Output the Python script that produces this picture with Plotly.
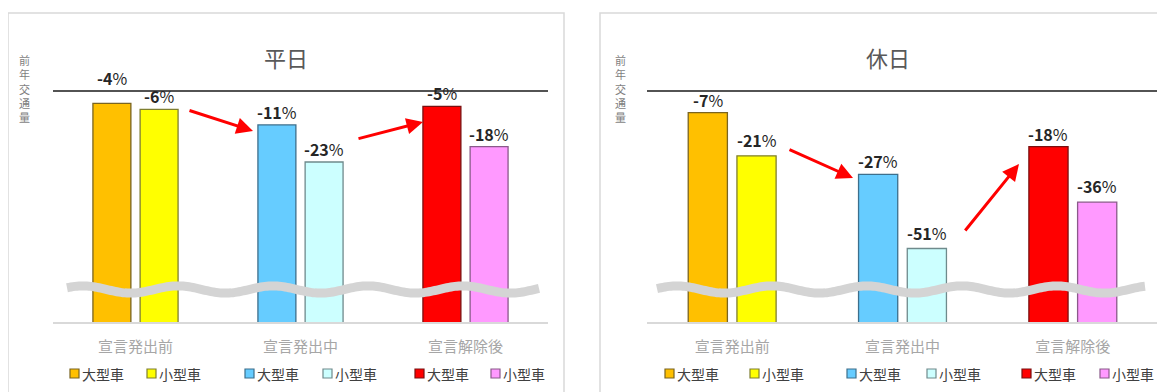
import math
import plotly.graph_objects as go

# ---------------- data ----------------
categories = ["宣言発出前", "宣言発出中", "宣言解除後"]
series_names = ["大型車", "小型車"]
weekday_large = [-4, -11, -5]     # 平日 大型車 (前年比 %)
weekday_small = [-6, -23, -18]    # 平日 小型車
holiday_large = [-7, -27, -18]    # 休日 大型車
holiday_small = [-21, -51, -36]   # 休日 小型車
panel_titles = ["平日", "休日"]
y_label = "前年交通量"

# ---------------- style ----------------
# the page body has an 8px margin, so the figure is drawn 8px in from the window edge
OX, OY = 8, 8
FW, FH = 1165 - OX, 392 - OY
FONT = "Noto Sans CJK JP"
large_colors = ["#FFC000", "#66CCFF", "#FF0000"]
small_colors = ["#FFFF00", "#CCFFFF", "#FF99FF"]
large_lines = ["#7a6420", "#3d6f8c", "#7a1010"]
small_lines = ["#7f7f30", "#6f8a8c", "#8a5a8a"]
BAR_W = 0.23
HALF = 0.143
Y_RANGE = [25.2, 100.3]


def px(x):
    """window pixel x -> paper x"""
    return (x - OX) / FW


def py(y):
    """window pixel y -> paper y"""
    return 1 - (y - OY) / FH


panels = [
    dict(large=weekday_large, small=weekday_small, xa="x", ya="y",
         dom=[px(53), px(548)], title_x=286, label_x=24,
         box=(8, 564), wave=(67, 540, 83),
         legend_x=[70, 147, 245, 323, 415, 491], lift=[[12, 0, 0], [0, 0, 0]],
         arrows=[((188, 110), (253, 131)), ((357, 139), (423, 122))]),
    dict(large=holiday_large, small=holiday_small, xa="x2", ya="y2",
         dom=[px(647), px(1158)], title_x=888, label_x=620,
         box=(600, 1175), wave=(657, 1145, 677),
         legend_x=[665, 750, 847, 927, 1022, 1100], lift=[[0, 0, 0], [3, 2, 3]],
         arrows=[((788, 149), (853, 178)), ((964, 232), (1019, 164))]),
]

fig = go.Figure()
shapes = []
annotations = []
ydom = [py(322), py(90)]

for p_i, p in enumerate(panels):
    x_pos = list(range(len(categories)))
    for s_i, (vals, cols, lcols, off) in enumerate([
        (p["large"], large_colors, large_lines, -HALF),
        (p["small"], small_colors, small_lines, HALF),
    ]):
        fig.add_trace(go.Bar(
            x=x_pos, y=[100 + v for v in vals], base=0,
            width=BAR_W, offset=off - BAR_W / 2,
            marker=dict(color=cols, line=dict(color=lcols, width=1.3)),
            name=series_names[s_i], showlegend=False,
            xaxis=p["xa"], yaxis=p["ya"],
        ))
        for i, v in enumerate(vals):
            annotations.append(dict(
                x=i + off, y=100 + v, xref=p["xa"], yref=p["ya"],
                text=f"<b>{v}</b>%", showarrow=False,
                xanchor="center", yanchor="bottom",
                yshift=-1 + p["lift"][s_i][i],
                font=dict(family=FONT, size=16, color="#262626"),
            ))

    # 0% line (前年交通量)
    shapes.append(dict(type="line", xref=f"{p['xa']} domain", yref=p["ya"],
                       x0=0, x1=1, y0=100, y1=100,
                       line=dict(color="#1a1a1a", width=1.6)))
    # panel border
    b0, b1 = p["box"]
    shapes.append(dict(type="rect", xref="paper", yref="paper",
                       x0=px(b0), x1=px(b1), y0=py(13), y1=py(420),
                       line=dict(color="#d9d9d9", width=1.5), layer="below"))
    # axis break wave
    ws, we, peak = p["wave"]
    pts = []
    x = ws
    while x <= we:
        yy = 289.5 - 3.6 * math.cos(2 * math.pi * (x - peak) / 95)
        pts.append(f"{px(x):.5f},{py(yy):.5f}")
        x += 2
    shapes.append(dict(type="path", xref="paper", yref="paper",
                       path="M " + " L ".join(pts),
                       line=dict(color="#d4d4d4", width=9), layer="above"))
    # title
    annotations.append(dict(x=px(p["title_x"]), y=py(57), xref="paper", yref="paper",
                            xanchor="center", yanchor="middle",
                            text=panel_titles[p_i], showarrow=False,
                            font=dict(family=FONT, size=22, color="#595959")))
    # vertical y label
    annotations.append(dict(x=px(p["label_x"]), y=py(88), xref="paper", yref="paper",
                            xanchor="center", yanchor="middle",
                            text="<br>".join(list(y_label)), showarrow=False,
                            font=dict(family=FONT, size=11, color="#7f7f7f")))
    # arrows
    for (tx, ty), (hx, hy) in p["arrows"]:
        annotations.append(dict(x=px(hx), y=py(hy), xref="paper", yref="paper",
                                ax=tx - hx, ay=ty - hy, text="", showarrow=True,
                                arrowhead=2, arrowsize=1.1, arrowwidth=3,
                                arrowcolor="#FF0000"))
    # custom legend
    leg_cols = [large_colors[0], small_colors[0], large_colors[1], small_colors[1],
                large_colors[2], small_colors[2]]
    leg_lines = [large_lines[0], small_lines[0], large_lines[1], small_lines[1],
                 large_lines[2], small_lines[2]]
    for k, lx in enumerate(p["legend_x"]):
        shapes.append(dict(type="rect", xref="paper", yref="paper",
                           x0=px(lx), x1=px(lx + 9), y0=py(378), y1=py(369),
                           fillcolor=leg_cols[k], line=dict(color=leg_lines[k], width=1.2)))
        annotations.append(dict(x=px(lx + 10), y=py(373.5), xref="paper", yref="paper",
                                xanchor="left", yanchor="middle",
                                text=series_names[k % 2], showarrow=False,
                                font=dict(family=FONT, size=14, color="#404040")))

axis_common = dict(range=[-0.5, 2.5], tickvals=[0, 1, 2], ticktext=categories,
                   showgrid=False, zeroline=False, showline=True,
                   linecolor="#d9d9d9", linewidth=1.5, ticks="",
                   ticklabelstandoff=10,
                   tickfont=dict(family=FONT, size=15, color="#a6a6a6"),
                   fixedrange=True)
yaxis_common = dict(range=Y_RANGE, domain=ydom, showgrid=False, zeroline=False,
                    showticklabels=False, showline=False, fixedrange=True)

fig.update_layout(
    width=FW, height=FH, autosize=False,
    margin=dict(l=0, r=0, t=0, b=0),
    paper_bgcolor="white", plot_bgcolor="rgba(0,0,0,0)",
    barmode="overlay", showlegend=False,
    xaxis=dict(domain=panels[0]["dom"], anchor="y", **axis_common),
    xaxis2=dict(domain=panels[1]["dom"], anchor="y2", **axis_common),
    yaxis=dict(anchor="x", **yaxis_common),
    yaxis2=dict(anchor="x2", **yaxis_common),
    shapes=shapes, annotations=annotations,
    font=dict(family=FONT),
)

fig.write_html("out.html")
